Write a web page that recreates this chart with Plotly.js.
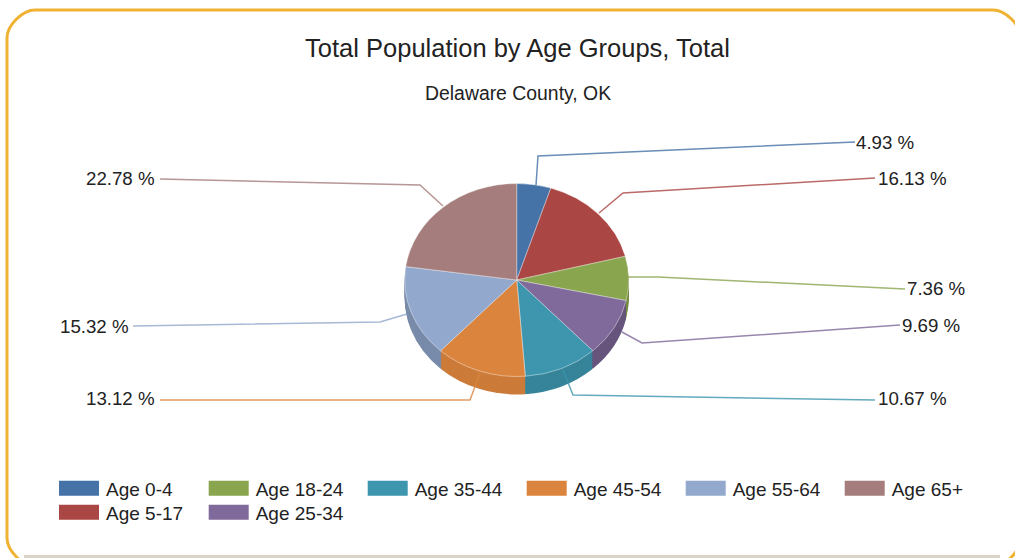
<!DOCTYPE html>
<html>
<head>
<meta charset="utf-8">
<script src="https://cdn.plot.ly/plotly-3.0.1.min.js"></script>
<style>html,body{margin:0;padding:0;background:#fff;overflow:hidden}#chart{width:1015px;height:558px}</style>
</head>
<body>
<div id="chart"></div>
<script>
var categories = ['Age 0-4','Age 5-17','Age 18-24','Age 25-34','Age 35-44','Age 45-54','Age 55-64','Age 65+'];
var shares = [4.93,16.13,7.36,9.69,10.67,13.12,15.32,22.78];
var colors = ['#4572A7','#AA4643','#89A54E','#80699B','#3D96AE','#DB843D','#92A8CD','#A47D7C'];
var sideShade = [0.9,0.9,0.85,0.8,0.88,0.93,0.83,0.85];
var legendOrder = [0,2,4,5,6,7,1,3];

var W = 1015, H = 558;
function px(x){return x/W;}
function py(y){return 1-y/H;}

var cx = 516.7, cy = 280, rx = 112, ry = 96.5, depth = 18;
var squash = ry/rx;

function shade(hex,f){
  var n=parseInt(hex.slice(1),16);
  var c=[(n>>16)&255,(n>>8)&255,n&255].map(function(v){return Math.round(v*f);});
  return 'rgb('+c.join(',')+')';
}
function pieTrace(offset,cols,line){
  var yc = cy+offset/squash;
  return {type:'pie',labels:categories,values:shares,sort:false,direction:'clockwise',rotation:0,
    textinfo:'none',showlegend:false,hoverinfo:offset?'skip':'label+percent',
    marker:{colors:cols,line:line},
    domain:{x:[px(cx-rx),px(cx+rx)],y:[py(yc+rx),py(yc-rx)]}};
}
var traces=[];
for(var d=depth;d>0;d-=1.5){
  traces.push(pieTrace(d,colors.map(function(c,i){return shade(c,sideShade[i]);}),{width:0}));
}
traces.push(pieTrace(0,colors,{color:'rgba(255,255,255,0.45)',width:1}));
legendOrder.forEach(function(i){
  traces.push({type:'scatter',mode:'lines',x:[null],y:[null],name:categories[i],
    line:{color:colors[i],width:15},showlegend:true,hoverinfo:'skip'});
});

var leaders=[
  [[536,185],[538,156],[855,142]],
  [[599,213],[623,193],[875,178]],
  [[628,277],[658,277],[905,289]],
  [[622,332],[642,343],[900,325]],
  [[563,370],[573,395],[875,400]],
  [[480,373],[470,400],[160,400]],
  [[407,314],[380,322],[133,326]],
  [[443,206],[420,185],[160,179]]
];
var labelAt=[[855,142,'left'],[877,178,'left'],[906,289,'left'],[901,325,'left'],[877,398,'left'],[155.5,398,'right'],[129.5,326,'right'],[155.5,178,'right']];

function P(x,y){return px(x)+','+py(y);}
var L=7,T=10,R=1021,B=566,rad=28,k=0.45*rad;
var framePath='M'+P(L,T+rad)+' C'+P(L,T+rad-k)+' '+P(L+rad-k,T)+' '+P(L+rad,T)+' L'+P(R-rad,T)+
  ' C'+P(R-rad+k,T)+' '+P(R,T+rad-k)+' '+P(R,T+rad)+' L'+P(R,B-rad)+
  ' C'+P(R,B-rad+k)+' '+P(R-rad+k,B)+' '+P(R-rad,B)+' L'+P(L+rad,B)+
  ' C'+P(L+rad-k,B)+' '+P(L,B-rad+k)+' '+P(L,B-rad)+' Z';
var shapes=[
  {type:'path',xref:'paper',yref:'paper',layer:'below',path:framePath,line:{color:'#F0B232',width:3},fillcolor:'#ffffff'},
  {type:'line',xref:'paper',yref:'paper',layer:'below',x0:px(24),x1:px(1000),y0:py(556.5),y1:py(556.5),line:{color:'#D9D3C8',width:3}}
];
leaders.forEach(function(l,i){
  shapes.push({type:'path',xref:'paper',yref:'paper',layer:'above',opacity:0.8,
    path:l.map(function(p,j){return (j?'L':'M')+P(p[0],p[1]);}).join(' '),
    line:{color:colors[i],width:1.5}});
});
var textFont={family:'Liberation Sans, Arial, sans-serif',size:18.7,color:'#222222'};
var annotations=shares.map(function(v,i){
  return {xref:'paper',yref:'paper',x:px(labelAt[i][0]),y:py(labelAt[i][1]),xanchor:labelAt[i][2],yanchor:'middle',
    text:v.toFixed(2)+' %',showarrow:false,font:textFont,borderpad:0};
});
annotations.push({xref:'paper',yref:'paper',x:px(518),y:py(93),xanchor:'center',yanchor:'middle',
  text:'Delaware County, OK',showarrow:false,font:{family:textFont.family,size:19.4,color:'#222222'}});

var layout={width:W,height:H,margin:{l:0,r:0,t:0,b:0},paper_bgcolor:'#fff',plot_bgcolor:'rgba(0,0,0,0)',
  title:{text:'Total Population by Age Groups, Total',x:px(517.5),xanchor:'center',y:py(48),yanchor:'middle',
    font:{family:'Liberation Sans, Arial, sans-serif',size:25.5,color:'#222222'}},
  xaxis:{visible:false,range:[0,1]},yaxis:{visible:false,range:[0,1]},
  showlegend:true,
  legend:{orientation:'h',x:px(54),y:py(469.5),xanchor:'left',yanchor:'top',traceorder:'normal',
    entrywidth:104,entrywidthmode:'pixels',itemwidth:40,itemsizing:'trace',
    font:{family:'Liberation Sans, Arial, sans-serif',size:19,color:'#222222'},bgcolor:'rgba(0,0,0,0)'},
  shapes:shapes,annotations:annotations};

Plotly.newPlot('chart',traces,layout,{displayModeBar:false,responsive:false}).then(function(gd){
  var layer=gd.querySelector('.pielayer');
  if(layer) layer.setAttribute('transform','translate(0,'+cy+') scale(1,'+squash+') translate(0,'+(-cy)+')');
  var rows=gd.querySelectorAll('.legend .traces');
  var firstY=null, firstX=null;
  rows.forEach(function(t){
    var m=/translate\(([-\d.]+),\s*([-\d.]+)\)/.exec(t.getAttribute('transform')||'');
    if(!m) return;
    var x=parseFloat(m[1]), y=parseFloat(m[2]);
    if(firstY===null){firstY=y;firstX=x;}
    var nx = x>firstX+1 ? x-9.3 : x;
    var ny = y>firstY+1 ? firstY+24 : y;
    t.setAttribute('transform','translate('+nx+','+ny+')');
    var sw=t.querySelector('.legendlines path');
    if(sw) sw.style.strokeWidth='15px';
    var tx=t.querySelector('.legendtext');
    if(tx) tx.setAttribute('x',parseFloat(tx.getAttribute('x'))+2);
  });
});
</script>
</body>
</html>
